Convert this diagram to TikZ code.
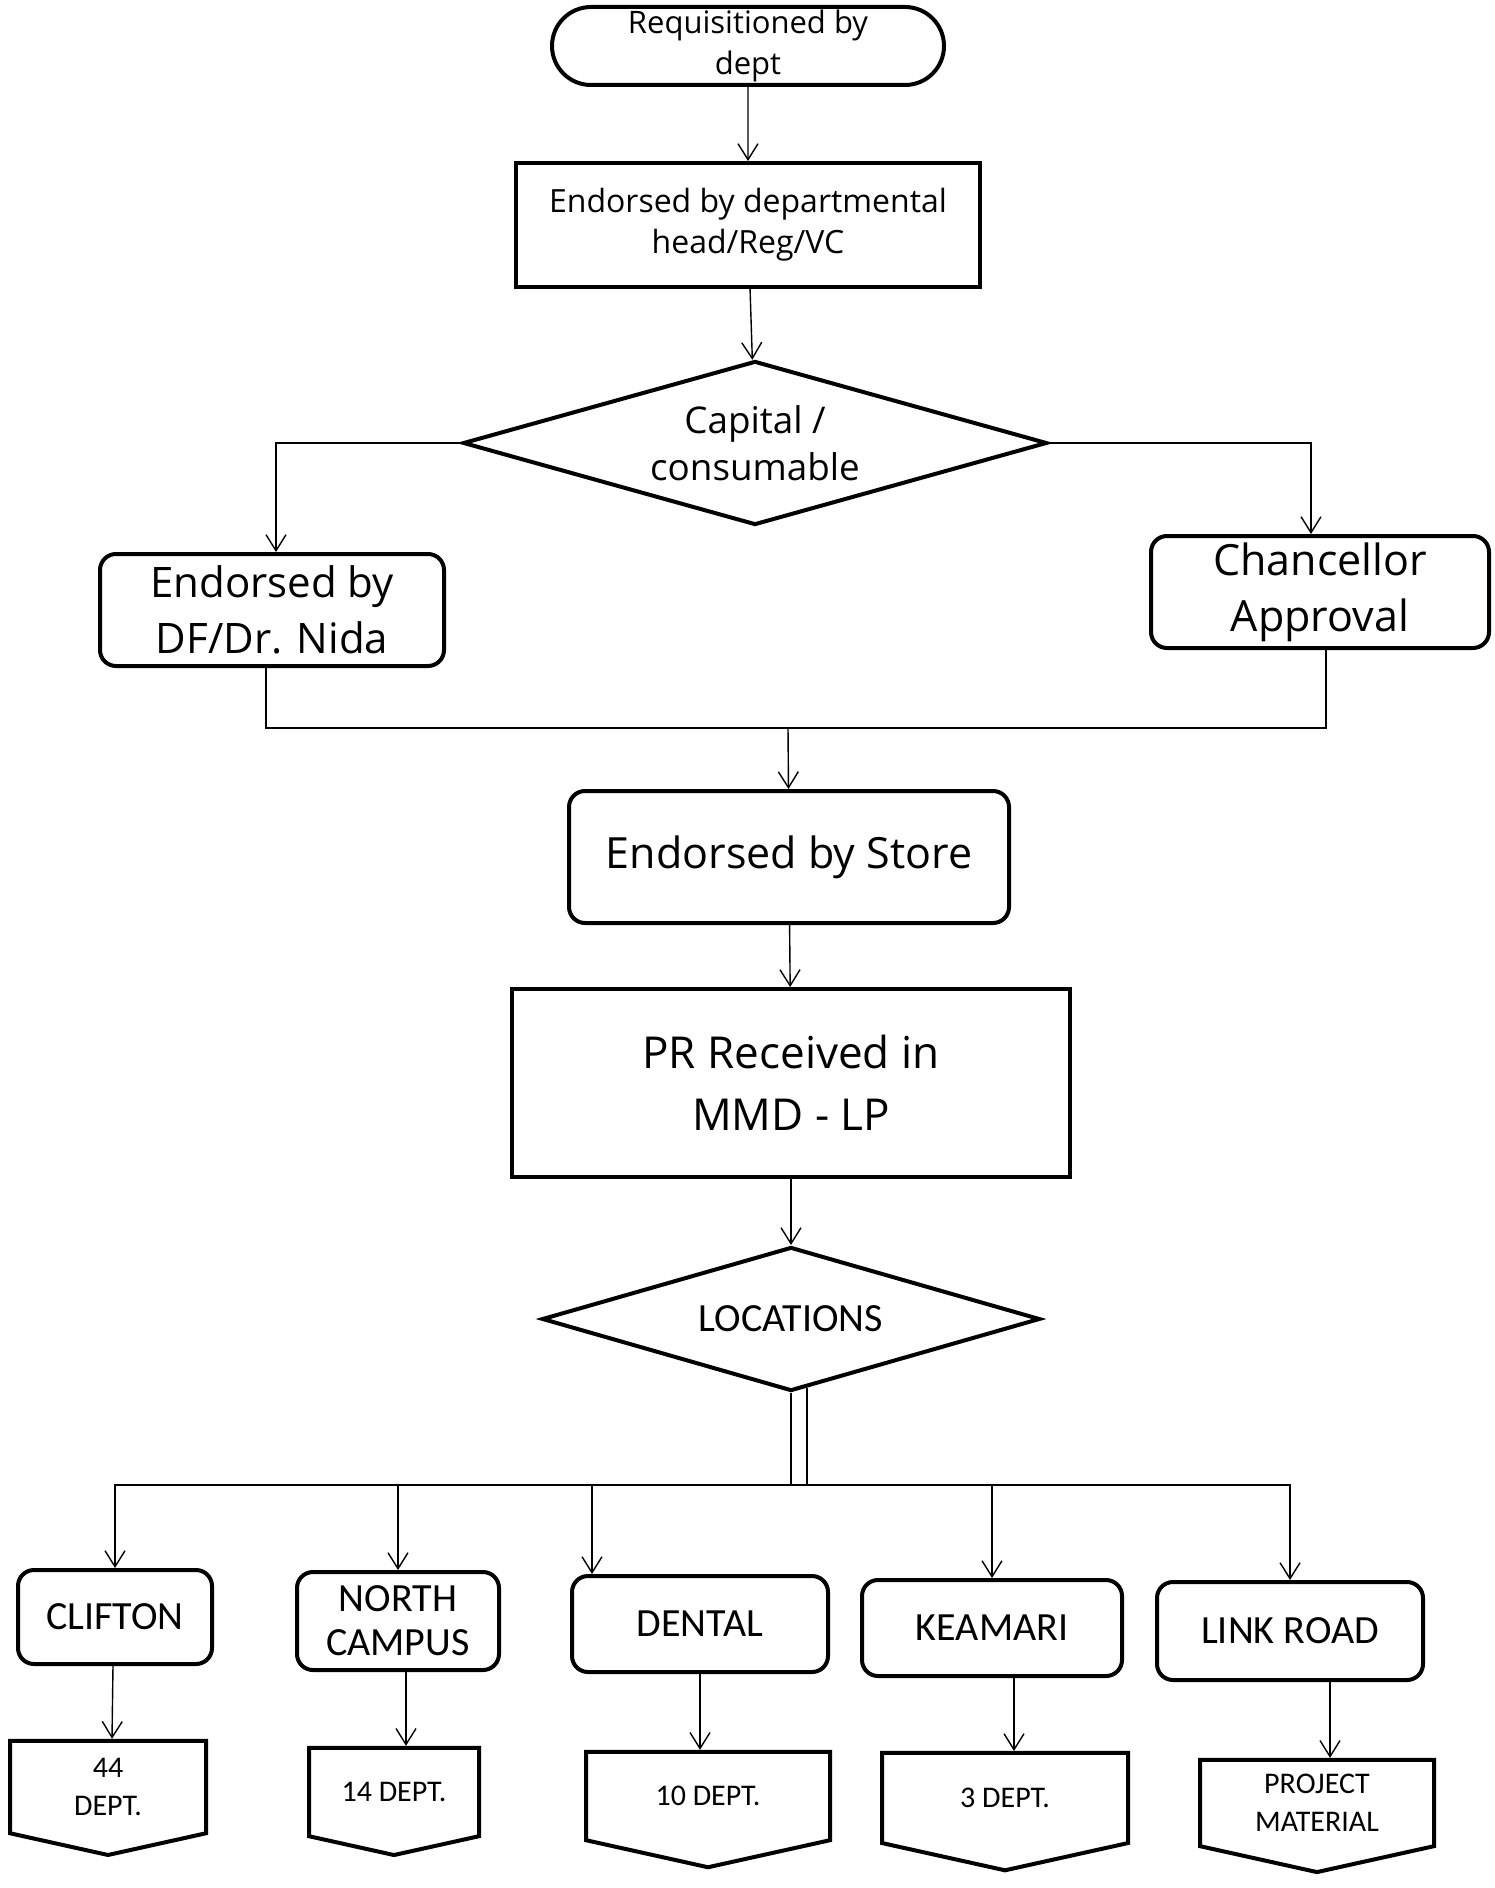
\documentclass[tikz,border=0pt]{standalone}
\usepackage{fontspec}
\setmainfont{Open Sans}
\newfontfamily\calfont{Carlito}
\usetikzlibrary{shapes.geometric, shapes.misc, shapes.symbols, arrows.meta}
\tikzset {
    >={Straight Barb[length=8pt,width=10pt]},
    conn/.style={->, line width=0.7pt},
    box/.style={draw, line width=2pt, align=center, inner sep=0pt},
    roundbox/.style={box, rounded corners=8pt},
    decision/.style={box, diamond, aspect=3.5},
    place/.style={roundbox, font=\calfont\fontsize{20}{22}\selectfont},
    depts/.style={box, signal, signal to=south, signal pointer angle=155,
        font=\calfont\fontsize{15}{19}\selectfont}
}

\begin{document}
\begin{tikzpicture}[x=0.5pt, y=-0.5pt]
    \useasboundingbox[fill=white] (0,0) rectangle (1494,1888);

    \node[box, rounded rectangle, minimum width=196pt, minimum height=39pt,
        font=\fontsize{15.5}{20.5}\selectfont] (req) at (748,46) {Requisitioned by\\dept};
    \node[box, minimum width=232pt, minimum height=62pt,
        font=\fontsize{16}{20.5}\selectfont] (dept) at (748,225) {Endorsed by departmental\\head/Reg/VC};
    \node[decision, minimum width=292pt, minimum height=82pt,
        font=\fontsize{18.4}{23.5}\selectfont] (cap) at (755,443) {Capital /\\consumable};
    \node[roundbox, minimum width=172pt, minimum height=56pt,
        font=\fontsize{21}{28}\selectfont] (df) at (272,610) {Endorsed by\\DF/Dr. Nida};
    \node[roundbox, minimum width=169pt, minimum height=56pt,
        font=\fontsize{21.5}{28}\selectfont] (ch) at (1320,592) {Chancellor\\Approval};
    \node[roundbox, minimum width=220pt, minimum height=66pt,
        font=\fontsize{21.5}{28}\selectfont] (store) at (789,857) {Endorsed by Store};
    \node[box, minimum width=279pt, minimum height=94pt,
        font=\fontsize{22}{31}\selectfont] (pr) at (791,1083) {PR Received in\\MMD - LP};
    \node[decision, minimum width=249pt, minimum height=72pt,
        font=\calfont\fontsize{20}{22}\selectfont] (loc) at (791,1319) {LOCATIONS};

    \node[place, minimum width=97pt, minimum height=47pt] (clifton) at (115,1617) {CLIFTON};
    \node[place, minimum width=101pt, minimum height=49pt] (north) at (398,1621) {NORTH\\CAMPUS};
    \node[place, minimum width=128pt, minimum height=48pt] (dental) at (700,1624) {DENTAL};
    \node[place, minimum width=130pt, minimum height=48pt] (keamari) at (992,1628) {KEAMARI};
    \node[place, minimum width=133pt, minimum height=49pt] (link) at (1290,1631) {LINK ROAD};

    \node[depts, minimum width=98pt, minimum height=50pt] (d44) at (108,1787) {44\\DEPT.};
    \node[depts, minimum width=85pt, minimum height=50pt] (d14) at (394,1792) {14 DEPT.};
    \node[depts, minimum width=122pt, minimum height=50pt] (d10) at (708,1796) {10 DEPT.};
    \node[depts, minimum width=123pt, minimum height=50pt] (d3) at (1005,1798) {3 DEPT.};
    \node[depts, minimum width=117pt, minimum height=50pt] (dpm) at (1317,1803) {PROJECT\\MATERIAL};

    \coordinate (merge) at (788,728);
    \coordinate (bus) at (791,1485);

    \draw[conn] (req) -- (dept);
    \draw[conn] (dept) -- (cap);
    \draw[conn] (cap.west) -| ([xshift=2pt]df.north);
    \draw[conn] (cap.east) -| ([xshift=-4.5pt]ch.north);
    \draw[line width=0.7pt] ([xshift=-3pt]df.south) |- (merge) -| ([xshift=3pt]ch.south);
    \draw[conn] (merge) -- (store);
    \draw[conn] (store) -- (pr);
    \draw[conn] (pr) -- (loc);
    \draw[line width=0.7pt] (loc.south) -- (bus);
    \draw[line width=0.7pt] ([xshift=8pt,yshift=2.3pt]loc.south) -- ([xshift=8pt]bus);
    \draw[conn] (bus) -| (clifton.north);
    \draw[conn] (bus) -| (north.north);
    \draw[conn] (bus) -| ([xshift=-54pt]dental.north);
    \draw[conn] (bus) -| (keamari.north);
    \draw[conn] (bus) -| (link.north);
    \draw[conn] ([xshift=-1pt]clifton.south) -- ([xshift=2pt]d44.north);
    \draw[conn] ([xshift=4pt]north.south) -- ([xshift=6pt]d14.north);
    \draw[conn] (dental.south) -- ([xshift=-4pt]d10.north);
    \draw[conn] ([xshift=11pt]keamari.south) -- ([xshift=4.5pt]d3.north);
    \draw[conn] ([xshift=20pt]link.south) -- ([xshift=6.5pt]dpm.north);
\end{tikzpicture}
\end{document}
